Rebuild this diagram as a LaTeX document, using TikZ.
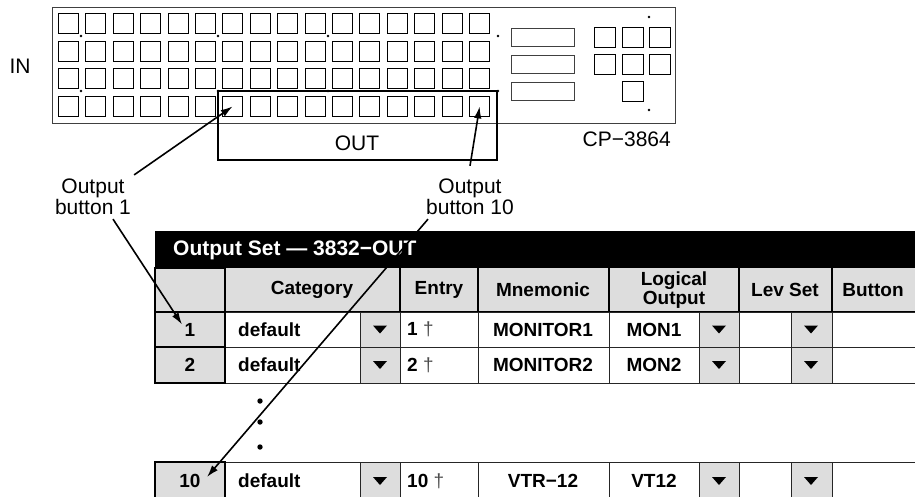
\documentclass[tikz,border=0pt]{standalone}
\usepackage{fontspec}
\setmainfont{Liberation Sans}
\usetikzlibrary{arrows.meta}
\definecolor{cellgray}{HTML}{DDDDDD}
\tikzset{
  panelkey/.style={draw=black,line width=1.3pt,minimum width=20pt,minimum height=19.5pt,inner sep=0pt,anchor=north west},
  paneledge/.style={draw=black!75,line width=0.8pt},
  lbltext/.style={font=\fontsize{21}{21}\selectfont,align=center,inner sep=0pt},
  tbltext/.style={font=\fontsize{19}{19}\selectfont\bfseries,align=center,inner sep=0pt},
  pointer/.style={line width=1.6pt,-{Latex[length=12pt,width=7.5pt]}},
  gridline/.style={draw=black!85,line width=0.9pt},
  headline/.style={draw=black,line width=1.8pt},
  numcell/.style={draw=black,fill=cellgray,line width=2.6pt},
  ddcell/.style={draw=black!85,fill=cellgray,line width=0.9pt},
}
\begin{document}
\begin{tikzpicture}[x=1pt,y=-1pt]
    \useasboundingbox (0,0) rectangle (915,496);
    \clip (0,0) rectangle (915,496);
    \draw[paneledge] (52,7) rectangle (675,123);
    \foreach \c in {0,...,15}
      \foreach \r in {0,...,3}
        \node[panelkey] (k\c-\r) at ({round(58+27.4*\c)},{round(13+27.5*\r)}) {};
    \foreach \y in {28,55,82}
      \draw[paneledge] (511,\y) rectangle +(63,18);
    \foreach \x/\y in {594/27,622/27,649/27,594/54,622/54,649/54,622/81}
      \node[panelkey,minimum width=21pt,minimum height=20pt] (s\x-\y) at (\x,\y) {};
    \foreach \x/\y in {81/36,218/36,328/36,498/36,81/91,328/91,649/17,649/110}
      \fill (\x,\y) circle (1.4pt);
    \draw[line width=1.8pt] (218,91) rectangle (497,160);
    \fill (218,91) circle (1.4pt) (498,91) circle (1.4pt);
    \node[lbltext] (outlbl) at (357,143) {OUT};
    \node[lbltext] (inlbl) at (20,66) {IN};
    \node[lbltext,anchor=east] (cplbl) at (671,139) {CP−3864};

    \fill (155,231) rectangle (915,268);
    \node[tbltext,font=\fontsize{21}{21}\selectfont\bfseries,text=white,anchor=west] (settitle) at (173,250) {Output Set — 3832−OUT};
    \fill[cellgray] (155,268) rectangle (915,312);
    \foreach \x in {400,478,609,739,832}
      \draw[headline] (\x,268) -- (\x,312);
    \draw[headline] (155,312) -- (915,312);
    \draw[numcell] (155,268) rectangle (225,312);
    \node[tbltext] (hcat) at (312,290) {Category};
    \node[tbltext] (hent) at (439,290) {Entry};
    \node[tbltext] (hmne) at (543,290) {Mnemonic};
    \node[tbltext,font=\fontsize{19}{17}\selectfont\bfseries] (hlog) at (674,290) {Logical\\Output};
    \node[tbltext] (hlev) at (785,290) {Lev Set};
    \node[tbltext] (hbtn) at (873,290) {Button};

    \foreach \rn/\ru/\rd/\mn/\lo in {1/312/347/MONITOR1/MON1,2/347/383/MONITOR2/MON2,10/462/500/VTR−12/VT12} {
      \pgfmathsetmacro{\ym}{(\ru+\rd)/2}
      \draw[gridline] (225,\ru) -- (915,\ru) (225,\rd) -- (915,\rd);
      \draw[gridline] (478,\ru) -- (478,\rd) (609,\ru) -- (609,\rd);
      \draw[ddcell] (360,\ru) rectangle (400,\rd);
      \draw[ddcell] (699,\ru) rectangle (739,\rd);
      \draw[ddcell] (791,\ru) rectangle (832,\rd);
      \draw[numcell] (155,\ru) rectangle (225,\rd);
      \foreach \x in {380,719,811}
        \fill ({\x-7},{\ym-4}) -- ({\x+7},{\ym-4}) -- (\x,{\ym+4}) -- cycle;
      \node[tbltext] (num\rn) at (190,\ym) {\rn};
      \node[tbltext,anchor=west] (cat\rn) at (238,\ym) {default};
      \node[tbltext,anchor=west] (ent\rn) at (407,\ym) {\rn\ {\mdseries\color{black!70}\textdagger}};
      \node[tbltext] (mne\rn) at (543,\ym) {\mn};
      \node[tbltext] (log\rn) at (654,\ym) {\lo};
    }
    \foreach \y in {401,422,447}
      \fill (260,\y) circle (2.7pt);

    \node[lbltext] (lblone) at (93,197) {Output\\button 1};
    \node[lbltext] (lblten) at (470,197) {Output\\button 10};
    \draw[pointer] ([xshift=3pt,yshift=4pt]lblone.north east) -- (k6-3.center);
    \draw[pointer] ([yshift=13pt]lblten.north) -- (k15-3.center);
    \draw[pointer] ([xshift=20pt,yshift=-4pt]lblone.south) -- ([xshift=-8pt,yshift=5pt]num1.center);
    \draw[pointer] ([xshift=2pt,yshift=-4pt]lblten.south west) -- ([xshift=17pt,yshift=4pt]num10.center);
\end{tikzpicture}
\end{document}
